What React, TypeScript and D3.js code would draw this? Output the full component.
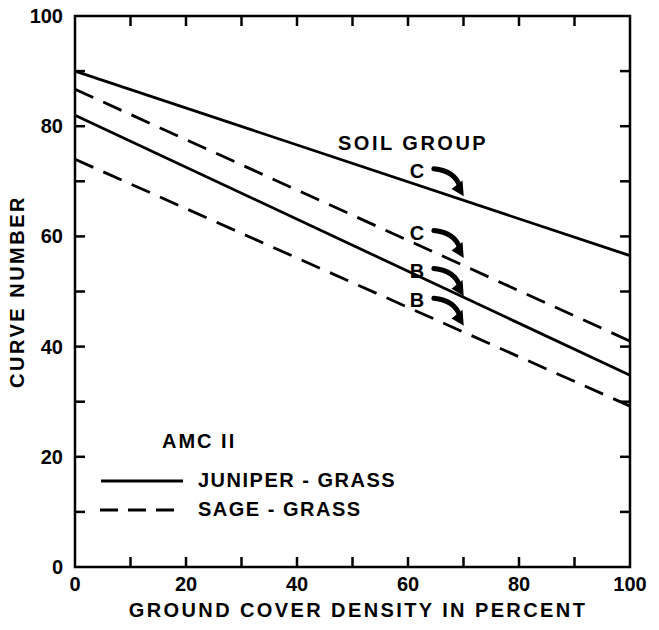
import React from "react";
import * as d3 from "d3";

const coverDensity = [0, 100];
const juniperC = [90, 56.5];
const sageC = [86.7, 41];
const juniperB = [82, 34.8];
const sageB = [74, 29.2];
const yTickLabels = [0, 20, 40, 60, 80, 100];
const xTickLabels = [0, 20, 40, 60, 80, 100];
const minorTicks = d3.range(0, 101, 10);
const soilLabels = ["C", "C", "B", "B"];
const soilLabelX = [61.6, 61.6, 61.6, 61.6];
const soilLabelY = [71.9, 60.7, 53.8, 48.4];

const W = 659, H = 630;
const L = 75, R = 630, T = 16, B = 567;

export default function App() {
  const x = d3.scaleLinear().domain([0, 100]).range([L, R]);
  const y = d3.scaleLinear().domain([0, 100]).range([B, T]);
  const line = d3.line<[number, number]>().x(d => x(d[0])).y(d => y(d[1]));
  const series = [
    { v: juniperC, dash: undefined },
    { v: sageC, dash: "20 11" },
    { v: juniperB, dash: undefined },
    { v: sageB, dash: "20 11" },
  ];
  const font = "'Liberation Sans', Arial, sans-serif";
  const tl = 10;
  return (
    <svg width={W} height={H} style={{ position: "absolute", left: 0, top: 0, background: "#fff" }}
      fontFamily={font} fontWeight="bold">
      <rect x={L} y={T} width={R - L} height={B - T} fill="none" stroke="#000" strokeWidth={2.5} />
      {minorTicks.filter(t => t > 0 && t < 100).map(t => (
        <g key={"t" + t} stroke="#000" strokeWidth={2.5}>
          <line x1={x(t)} x2={x(t)} y1={B} y2={B - tl} />
          <line x1={x(t)} x2={x(t)} y1={T} y2={T + tl} />
          <line x1={L} x2={L + tl} y1={y(t)} y2={y(t)} />
          <line x1={R} x2={R - tl} y1={y(t)} y2={y(t)} />
        </g>
      ))}
      {yTickLabels.map(t => (
        <text key={"y" + t} x={L - 12} y={y(t)} dy="0.35em" textAnchor="end" fontSize={20}>{t}</text>
      ))}
      {xTickLabels.map(t => (
        <text key={"x" + t} x={x(t)} y={B + 24} textAnchor="middle" fontSize={20}>{t}</text>
      ))}
      <text x={358} y={617} textAnchor="middle" fontSize={20} letterSpacing={2.4}>GROUND COVER DENSITY IN PERCENT</text>
      <text transform={`translate(24,${y(50)}) rotate(-90)`} textAnchor="middle" fontSize={20} letterSpacing={2.5}>CURVE NUMBER</text>
      {series.map((s, i) => (
        <path key={"s" + i}
          d={line(coverDensity.map((c, j) => [c, s.v[j]] as [number, number])) || ""}
          fill="none" stroke="#000" strokeWidth={2.8} strokeDasharray={s.dash} />
      ))}
      <text x={338} y={150} fontSize={20} letterSpacing={2.5}>SOIL GROUP</text>
      {soilLabels.map((lab, i) => {
        const px = x(soilLabelX[i]), py = y(soilLabelY[i]);
        const sx = px + 17, sy = py - 2, ex = px + 46, ey = py + 24;
        return (
          <g key={"a" + i}>
            <text x={px} y={py} dy="0.35em" textAnchor="middle" fontSize={20}>{lab}</text>
            <path d={`M${sx},${sy} Q${px + 38},${py} ${ex - 3},${ey - 8}`} fill="none" stroke="#000" strokeWidth={5} strokeLinecap="round" />
            <path d={`M${ex},${ey} L${ex - 10},${ey - 6} L${ex - 1},${ey - 13} Z`} fill="#000" stroke="#000" strokeWidth={1.5} />
          </g>
        );
      })}
      <text x={162} y={448} fontSize={20} letterSpacing={2}>AMC II</text>
      <line x1={101} x2={183} y1={481} y2={481} stroke="#000" strokeWidth={2.8} />
      <line x1={100} x2={183} y1={510} y2={510} stroke="#000" strokeWidth={2.8} strokeDasharray="18 10" />
      <text x={198} y={487} fontSize={20} letterSpacing={1.5}>JUNIPER - GRASS</text>
      <text x={198} y={516} fontSize={20} letterSpacing={1.5}>SAGE - GRASS</text>
    </svg>
  );
}
